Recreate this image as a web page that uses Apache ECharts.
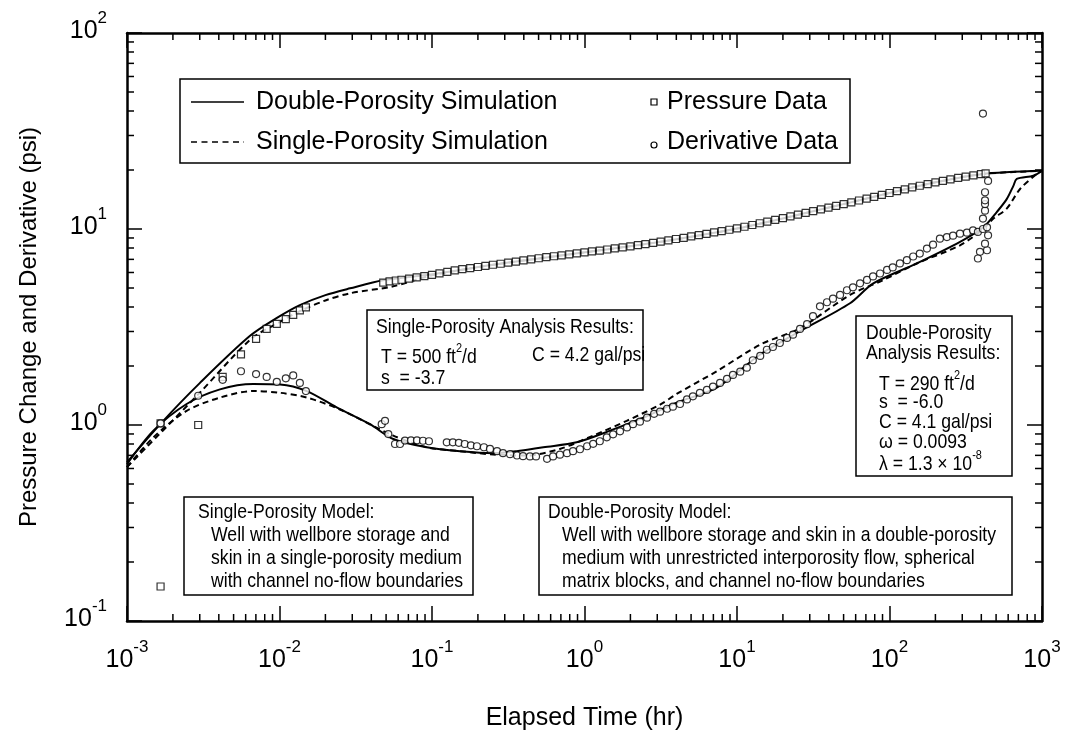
<!DOCTYPE html>
<html>
<head>
<meta charset="utf-8">
<script src="https://cdn.jsdelivr.net/npm/echarts@6/dist/echarts.min.js"></script>
</head>
<body style="margin: 0">
<div id="container" style="width: 1066px; height: 736px"></div>
<script type="text/javascript">
    // pressure data (squares)
    var pressureTime = [0.00166, 0.00166, 0.00293, 0.00424, 0.00559, 0.00702, 0.00824, 0.0096, 0.0110, 0.0123, 0.0136, 0.0149,
        0.0479, 0.0527, 0.0579, 0.0631, 0.0708, 0.0794, 0.0891, 0.100, 0.112, 0.126, 0.141, 0.158, 0.178,
        0.200, 0.224, 0.251, 0.282, 0.316, 0.355, 0.398, 0.447, 0.501, 0.562, 0.631, 0.708, 0.794, 0.891,
        1.00, 1.12, 1.26, 1.41, 1.58, 1.78, 2.00, 2.24, 2.51, 2.82, 3.16, 3.55, 3.98, 4.47, 5.01, 5.62, 6.31, 7.08, 7.94, 8.91,
        10.0, 11.2, 12.6, 14.1, 15.8, 17.8, 20.0, 22.4, 25.1, 28.2, 31.6, 35.5, 39.8, 44.7, 50.1, 56.2, 63.1, 70.8, 79.4, 89.1,
        100, 112, 126, 141, 158, 178, 200, 224, 251, 282, 316, 355, 398, 427];
    var pressureValue = [1.02, 0.15, 1.00, 1.76, 2.29, 2.75, 3.09, 3.28, 3.47, 3.65, 3.84, 3.98,
        5.33, 5.40, 5.46, 5.51, 5.58, 5.66, 5.75, 5.84, 5.94, 6.04, 6.15, 6.24, 6.32,
        6.40, 6.49, 6.57, 6.65, 6.74, 6.82, 6.91, 7.00, 7.09, 7.18, 7.26, 7.34, 7.42, 7.51,
        7.59, 7.68, 7.76, 7.86, 7.96, 8.06, 8.16, 8.27, 8.37, 8.49, 8.62, 8.75, 8.89, 9.02, 9.16, 9.31, 9.45, 9.60, 9.76, 9.91,
        10.07, 10.27, 10.48, 10.70, 10.91, 11.14, 11.36, 11.60, 11.84, 12.08, 12.33, 12.58, 12.85, 13.12, 13.39, 13.68, 13.98, 14.29, 14.60, 14.93,
        15.26, 15.59, 15.94, 16.29, 16.62, 16.95, 17.29, 17.62, 17.92, 18.23, 18.52, 18.79, 19.05, 19.2];

    // derivative data (circles)
    var derivTime = [0.00166, 0.00293, 0.00424, 0.00559, 0.00702, 0.00824, 0.0096, 0.0110, 0.0123, 0.0136, 0.0149,
        0.0468, 0.0492, 0.0517, 0.0572, 0.0617, 0.0665, 0.0728, 0.0797, 0.0873, 0.0955,
        0.125, 0.137, 0.150, 0.164, 0.180, 0.197, 0.219, 0.240, 0.267, 0.292, 0.325, 0.361, 0.395, 0.439, 0.481,
        0.568, 0.622, 0.690, 0.768, 0.841, 0.934, 1.04, 1.14, 1.26, 1.40, 1.54, 1.71, 1.90, 2.08, 2.31, 2.57, 2.86,
        3.13, 3.48, 3.80, 4.23, 4.70, 5.14, 5.71, 6.35, 6.96, 7.74, 8.60, 9.41, 10.5, 11.6, 12.7, 14.2, 15.7, 17.2,
        19.1, 21.3, 23.3, 25.9, 28.8, 31.5, 35.0, 38.9, 42.6, 47.4, 52.6, 57.6, 64.1, 71.2, 78.0, 86.7, 96.4,
        105, 117, 130, 143, 158, 176, 193, 214, 238, 261, 290, 322, 353, 380, 410, 436,
        443, 392, 436, 380, 423, 410, 423, 423, 423, 423, 443, 410];
    var derivValue = [1.02, 1.41, 1.70, 1.88, 1.82, 1.76, 1.66, 1.73, 1.79, 1.64, 1.49,
        1.01, 1.05, 0.899, 0.800, 0.800, 0.833, 0.835, 0.835, 0.831, 0.826,
        0.816, 0.816, 0.811, 0.800, 0.788, 0.779, 0.770, 0.755, 0.735, 0.718, 0.710, 0.699, 0.693, 0.691, 0.691,
        0.672, 0.691, 0.706, 0.718, 0.735, 0.752, 0.779, 0.802, 0.826, 0.865, 0.896, 0.928, 0.972, 1.01, 1.04, 1.09, 1.14,
        1.17, 1.21, 1.24, 1.28, 1.35, 1.40, 1.46, 1.51, 1.57, 1.64, 1.72, 1.80, 1.87, 1.96, 2.14, 2.25, 2.42, 2.50,
        2.62, 2.78, 2.89, 3.09, 3.27, 3.59, 4.03, 4.23, 4.41, 4.61, 4.87, 5.04, 5.28, 5.50, 5.73, 5.93, 6.18,
        6.37, 6.67, 6.93, 7.24, 7.49, 7.95, 8.32, 8.93, 9.09, 9.25, 9.47, 9.58, 9.84, 9.66, 10.0, 10.2,
        9.28, 7.65, 7.79, 7.07, 8.42, 11.3, 12.4, 13.4, 14.0, 15.4, 17.6, 38.8];

    // double-porosity simulation
    var dblPressTime = [0.001, 0.00167, 0.00301, 0.00641, 0.0098, 0.0136, 0.0200, 0.029, 0.0477, 0.1, 0.3, 1, 3, 10, 30, 100, 200, 400, 1000];
    var dblPressValue = [0.646, 1.02, 1.64, 2.85, 3.55, 4.09, 4.60, 4.98, 5.47, 5.87, 6.70, 7.60, 8.55, 10.05, 12.2, 15.25, 17.3, 19.05, 19.8];
    var dblDerivTime = [0.001, 0.00149, 0.00246, 0.00407, 0.00673, 0.0101, 0.0151, 0.0237, 0.0392, 0.0557, 0.0923, 0.153, 0.252,
        0.359, 0.537, 0.889, 1.47, 2.43, 4.02, 7.36, 14.2, 25.9, 55.1, 78.3, 151, 290, 412, 505, 587, 649, 683, 877, 1000];
    var dblDerivValue = [0.631, 0.936, 1.28, 1.52, 1.62, 1.61, 1.49, 1.23, 1.01, 0.848, 0.770, 0.735, 0.718,
        0.735, 0.770, 0.816, 0.936, 1.09, 1.30, 1.55, 2.29, 3.01, 4.18, 5.28, 6.67, 8.59, 10.2, 12.2, 14.2, 16.6, 18.0, 18.7, 19.8];

    // single-porosity simulation
    var sglPressTime = [0.001, 0.003, 0.00641, 0.0098, 0.0136, 0.0200, 0.029, 0.0557, 0.1, 0.3, 1, 3, 10, 30, 100, 200, 400, 1000];
    var sglPressValue = [0.61, 1.46, 2.72, 3.32, 3.81, 4.32, 4.70, 5.10, 5.80, 6.70, 7.60, 8.55, 10.05, 12.2, 15.25, 17.3, 19.05, 19.8];
    var sglDerivTime = [0.001, 0.00149, 0.00246, 0.00407, 0.00673, 0.0101, 0.0151, 0.0249, 0.0557, 0.0923, 0.153, 0.252,
        0.418, 0.690, 1.14, 1.89, 3.13, 4.02, 7.36, 14.2, 25.9, 55.1, 91.1, 151, 290, 412, 480, 587, 718, 923, 1000];
    var sglDerivValue = [0.61, 0.865, 1.18, 1.38, 1.49, 1.46, 1.38, 1.20, 0.883, 0.770, 0.735, 0.707,
        0.699, 0.755, 0.883, 1.05, 1.27, 1.44, 1.88, 2.57, 3.12, 4.61, 5.49, 6.67, 8.26, 10.0, 11.3, 12.7, 16.0, 19.1, 19.8];

    var legendLines = ['Double-Porosity Simulation', 'Single-Porosity Simulation'];
    var legendMarkers = ['Pressure Data', 'Derivative Data'];

    var minorMantissa = [2, 3, 4, 5, 6, 7, 8, 9];
    var xDecades = [0.001, 0.01, 0.1, 1, 10, 100];
    var yDecades = [0.1, 1, 10];

    var SANS = '"Liberation Sans", Arial, Helvetica, sans-serif';
    var NARROW_X = 0.84;   // horizontal squeeze for the boxed notes

    function pairs(t, v) {
        return t.map(function (x, i) { return [x, v[i]]; });
    }

    var xMinor = [], yMinor = [];
    xDecades.forEach(function (d) { minorMantissa.forEach(function (m) { xMinor.push([m * d, 1]); }); });
    yDecades.forEach(function (d) { minorMantissa.forEach(function (m) { yMinor.push([1, m * d]); }); });

    function powLabel(v) {
        var e = Math.round(Math.log(v) / Math.LN10);
        return '{b|10}{s|' + e + '}';
    }
    var tickRich = {
        b: { fontSize: 25, fontFamily: SANS, color: '#000', lineHeight: 34, verticalAlign: 'bottom' },
        s: { fontSize: 17, fontFamily: SANS, color: '#000', lineHeight: 17, verticalAlign: 'top' }
    };

    function makeAxis(pos, isX, showLabel) {
        return {
            type: 'log',
            logBase: 10,
            min: isX ? 0.001 : 0.1,
            max: isX ? 1000 : 100,
            splitNumber: isX ? 6 : 3,
            position: pos,
            axisLine: { show: true, onZero: false, lineStyle: { color: '#000', width: 2.5 } },
            axisTick: { show: true, inside: true, length: 15, lineStyle: { color: '#000', width: 1.5 } },
            axisLabel: {
                show: showLabel, formatter: powLabel, rich: tickRich,
                margin: isX ? 18 : 20,
                padding: isX ? 0 : [0, 0, 12, 0]
            },
            splitLine: { show: false }
        };
    }

    var xMain = makeAxis('bottom', true, true);
    xMain.name = 'Elapsed Time (hr)';
    xMain.nameLocation = 'middle';
    xMain.nameGap = 85;
    xMain.nameTextStyle = { fontSize: 25, fontFamily: SANS, color: '#000' };
    var yMain = makeAxis('left', false, true);
    yMain.name = 'Pressure Change and Derivative (psi)';
    yMain.nameLocation = 'middle';
    yMain.nameGap = 86;
    yMain.nameTextStyle = { fontSize: 24, fontFamily: SANS, color: '#000' };

    function tickItem(isX) {
        return function (params, api) {
            var cs = params.coordSys;
            var st = { stroke: '#000', lineWidth: 1.5 };
            if (isX) {
                var px = api.coord([api.value(0), 1])[0];
                var b = cs.y + cs.height, t = cs.y;
                return { type: 'group', children: [
                    { type: 'line', shape: { x1: px, y1: b, x2: px, y2: b - 7 }, style: st },
                    { type: 'line', shape: { x1: px, y1: t, x2: px, y2: t + 7 }, style: st }
                ] };
            }
            var py = api.coord([1, api.value(1)])[1];
            var l = cs.x, r = cs.x + cs.width;
            return { type: 'group', children: [
                { type: 'line', shape: { x1: l, y1: py, x2: l + 7, y2: py }, style: st },
                { type: 'line', shape: { x1: r, y1: py, x2: r - 7, y2: py }, style: st }
            ] };
        };
    }

    function boxText(x, y, text, size, squeeze) {
        var fs = size || 21;
        return {
            type: 'text', x: x, y: y, z: 10, scaleX: squeeze || NARROW_X,
            style: {
                text: text, fill: '#000', verticalAlign: 'middle',
                font: fs + 'px ' + SANS,
                rich: {
                    n: { fontSize: fs, fontFamily: SANS, lineHeight: 26, verticalAlign: 'bottom' },
                    s: { fontSize: 13, fontFamily: SANS, lineHeight: 13, verticalAlign: 'top' }
                }
            }
        };
    }
    function boxRect(x, y, w, h) {
        return { type: 'rect', z: 9, shape: { x: x, y: y, width: w, height: h },
            style: { fill: '#fff', stroke: '#000', lineWidth: 1.5 } };
    }

    var dom = document.getElementById('container');
    var myChart = echarts.init(dom);

    var option = {
        backgroundColor: '#fff',
        animation: false,
        grid: { left: 127, right: 24, top: 33, bottom: 111, containLabel: false },
        xAxis: [xMain, makeAxis('top', true, false)],
        yAxis: [yMain, makeAxis('right', false, false)],
        graphic: [
            // legend
            boxRect(180, 79, 670, 84),
            { type: 'line', z: 10, shape: { x1: 191, y1: 102, x2: 244, y2: 102 }, style: { stroke: '#000', lineWidth: 1.6 } },
            { type: 'line', z: 10, shape: { x1: 191, y1: 142, x2: 244, y2: 142 }, style: { stroke: '#000', lineWidth: 1.6, lineDash: [6, 4.5] } },
            boxText(256, 102, legendLines[0], 25, 1),
            boxText(256, 142, legendLines[1], 25, 1),
            { type: 'rect', z: 10, shape: { x: 651, y: 99, width: 6, height: 6 }, style: { fill: '#fff', stroke: '#000', lineWidth: 1.2 } },
            { type: 'circle', z: 10, shape: { cx: 654, cy: 145, r: 3 }, style: { fill: '#fff', stroke: '#000', lineWidth: 1.2 } },
            boxText(667, 102, legendMarkers[0], 25, 1),
            boxText(667, 142, legendMarkers[1], 25, 1),
            // single-porosity results
            boxRect(367, 310, 276, 80),
            boxText(376, 327, 'Single-Porosity Analysis Results:'),
            boxText(381, 355, '{n|T = 500 ft}{s|2}{n|/d}'),
            boxText(532, 355, 'C = 4.2 gal/psi'),
            boxText(381, 378, 's  = -3.7'),
            // double-porosity results
            boxRect(856, 316, 156, 160),
            boxText(866, 333, 'Double-Porosity'),
            boxText(866, 353, 'Analysis Results:'),
            boxText(879, 382, '{n|T = 290 ft}{s|2}{n|/d}'),
            boxText(879, 402, 's  = -6.0'),
            boxText(879, 422, 'C = 4.1 gal/psi'),
            boxText(879, 442, 'ω = 0.0093'),
            boxText(879, 462, '{n|λ = 1.3 × 10}{s|-8}'),
            // models
            boxRect(184, 497, 289, 98),
            boxText(198, 512, 'Single-Porosity Model:'),
            boxText(211, 535, 'Well with wellbore storage and'),
            boxText(211, 558, 'skin in a single-porosity medium'),
            boxText(211, 581, 'with channel no-flow boundaries'),
            boxRect(539, 497, 473, 98),
            boxText(548, 512, 'Double-Porosity Model:'),
            boxText(562, 535, 'Well with wellbore storage and skin in a double-porosity'),
            boxText(562, 558, 'medium with unrestricted interporosity flow, spherical'),
            boxText(562, 581, 'matrix blocks, and channel no-flow boundaries')
        ],
        series: [{
            name: legendLines[0], type: 'line', data: pairs(dblPressTime, dblPressValue),
            symbol: 'none', smooth: 0.3, lineStyle: { color: '#000', width: 2 }
        }, {
            name: legendLines[1], type: 'line', data: pairs(sglPressTime, sglPressValue),
            symbol: 'none', smooth: 0.3, lineStyle: { color: '#000', width: 2, type: [6, 4] }
        }, {
            name: legendLines[0], type: 'line', data: pairs(dblDerivTime, dblDerivValue),
            symbol: 'none', smooth: 0.3, lineStyle: { color: '#000', width: 2 }
        }, {
            name: legendLines[1], type: 'line', data: pairs(sglDerivTime, sglDerivValue),
            symbol: 'none', smooth: 0.3, lineStyle: { color: '#000', width: 2, type: [6, 4] }
        }, {
            name: legendMarkers[0], type: 'scatter', data: pairs(pressureTime, pressureValue),
            symbol: 'rect', symbolSize: 7, z: 3,
            itemStyle: { color: '#fff', borderColor: '#000', borderWidth: 1.2 }
        }, {
            name: legendMarkers[1], type: 'scatter', data: pairs(derivTime, derivValue),
            symbol: 'circle', symbolSize: 7, z: 3,
            itemStyle: { color: '#fff', borderColor: '#000', borderWidth: 1.2 }
        }, {
            type: 'custom', data: xMinor, renderItem: tickItem(true), silent: true, clip: false, z: 5
        }, {
            type: 'custom', data: yMinor, renderItem: tickItem(false), silent: true, clip: false, z: 5
        }]
    };
    myChart.setOption(option);
</script>
</body>
</html>
